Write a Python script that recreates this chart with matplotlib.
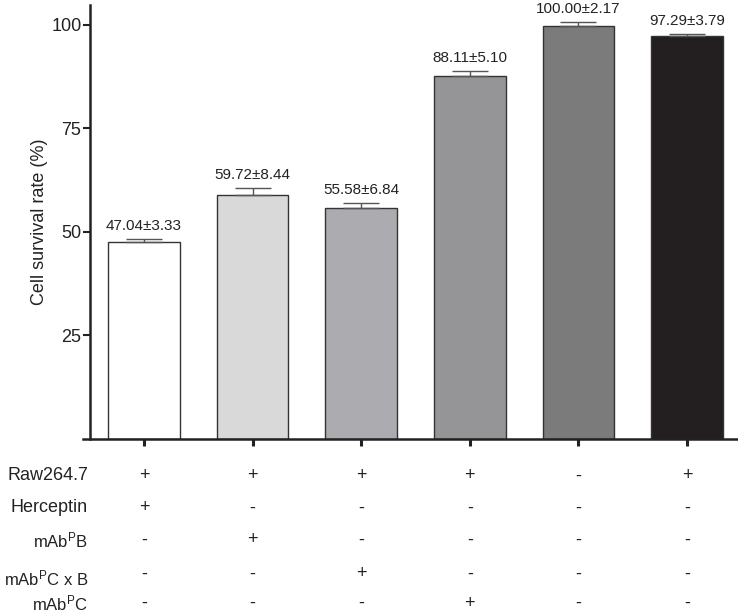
import numpy as np
import matplotlib.pyplot as plt

# Datos.
grupos = ['g1', 'g2', 'g3', 'g4', 'g5', 'g6']
alturas = [47.5, 59.0, 55.8, 87.7, 99.8, 97.3]
errores = [0.8, 1.6, 1.2, 1.2, 0.9, 0.5]
etiquetas = ['47.04±3.33', '59.72±8.44', '55.58±6.84', '88.11±5.10', '100.00±2.17', '97.29±3.79']
colores = ['#ffffff', '#d9d9d9', '#acacb0', '#959597', '#7b7b7b', '#231f20']

filas = ['Raw264.7', 'Herceptin', r'mAb$^{P}$B', r'mAb$^{P}$C x B', r'mAb$^{P}$C']
signos = [
    ['+', '+', '+', '+', '-', '+'],
    ['+', '-', '-', '-', '-', '-'],
    ['-', '+', '-', '-', '-', '-'],
    ['-', '-', '+', '-', '-', '-'],
    ['-', '-', '-', '+', '-', '-'],
]
# Posición vertical de cada fila (fracción de la figura).
filas_y = [1 - 476/613, 1 - 508/613, 1 - 540/613, 1 - 574/613, 1 - 603/613]
filas_label_y = [1 - 476/613, 1 - 508/613, 1 - 540/613, 1 - 578/613, 1 - 603/613]
filas_size = [13, 13, 12, 12, 12]

plt.rcParams['font.family'] = ['Liberation Sans', 'DejaVu Sans']
plt.rcParams['mathtext.default'] = 'regular'

fig = plt.figure(figsize=(7.38, 6.13), dpi=100)
ax = fig.add_axes([83/738, 1 - 439/613, 1 - 83/738, (439 - 5)/613])

x = np.arange(len(grupos))
ax.bar(x, alturas, width=0.66, color=colores, edgecolor='#333333', linewidth=1.0, zorder=2)
ax.errorbar(x, alturas, yerr=[np.zeros(len(errores)), errores], fmt='none',
            ecolor='#555555', elinewidth=1.0, capsize=13, capthick=1.0, zorder=3)

for i in range(len(grupos)):
    ax.annotate(etiquetas[i], (x[i], alturas[i] + errores[i]), xytext=(0, 4),
                textcoords='offset points', ha='center', va='bottom', fontsize=11,
                color='#222222')

ax.set_xlim(-0.562, 5.47)
ax.set_ylim(0, 104.8)
ax.spines['top'].set_visible(False)
ax.spines['right'].set_visible(False)
ax.spines['left'].set_position(('data', -0.5))
ax.spines['left'].set_linewidth(1.8)
ax.spines['bottom'].set_linewidth(1.8)
ax.spines['left'].set_color('#222222')
ax.spines['bottom'].set_color('#222222')

ax.set_yticks([25, 50, 75, 100])
ax.tick_params(axis='y', direction='out', length=5, width=1.5, labelsize=13, pad=1,
               colors='#222222')
ax.set_xticks(x)
ax.set_xticklabels([])
ax.tick_params(axis='x', direction='out', length=5, width=2.2, colors='#222222')
ax.set_ylabel('Cell survival rate (%)', fontsize=13, color='#222222', labelpad=2)

# Tabla de tratamientos.
centros = [(83 + (xi + 0.562) / (5.47 + 0.562) * (738 - 83)) / 738 for xi in x]
for j in range(len(filas)):
    fig.text(88/738, filas_label_y[j], filas[j], ha='right', va='center',
             fontsize=filas_size[j], color='#222222')
    for i in range(len(grupos)):
        fig.text(centros[i], filas_y[j], signos[j][i], ha='center', va='center',
                 fontsize=13, color='#222222')

plt.savefig('out.png', dpi=100)
